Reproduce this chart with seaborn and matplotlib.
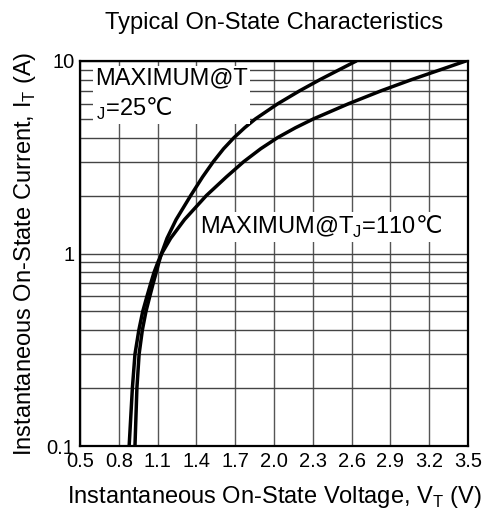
import matplotlib
matplotlib.use("Agg")
import matplotlib.pyplot as plt
import seaborn as sns
import pandas as pd

# data (current A, voltage V)
i_25 = [0.1, 0.2, 0.3, 0.4, 0.5, 0.6, 0.7, 0.8, 0.9, 1.0, 1.2, 1.5, 2.0, 2.5, 3.0, 3.5, 4.0,
        4.5, 5.0, 6.0, 7.0, 8.0, 9.0, 10]
v_25 = [0.925, 0.94, 0.957, 0.982, 1.01, 1.04, 1.066, 1.09, 1.11, 1.13, 1.173, 1.243, 1.356,
        1.448, 1.531, 1.61, 1.691, 1.773, 1.856, 2.03, 2.198, 2.355, 2.503, 2.636]
i_110 = [0.1, 0.2, 0.3, 0.4, 0.5, 0.6, 0.7, 0.8, 0.9, 1.0, 1.2, 1.5, 2.0, 2.5, 3.0, 3.5, 4.0,
         4.5, 5.0, 6.0, 7.0, 8.0, 9.0, 10]
v_110 = [0.88, 0.905, 0.925, 0.955, 0.985, 1.018, 1.047, 1.073, 1.102, 1.132, 1.201, 1.308,
         1.477, 1.632, 1.766, 1.897, 2.028, 2.166, 2.304, 2.577, 2.828, 3.063, 3.285, 3.483]
x_ticks = [0.5, 0.8, 1.1, 1.4, 1.7, 2.0, 2.3, 2.6, 2.9, 3.2, 3.5]
y_ticks = [0.1, 1, 10]
y_ticklabels = ["0.1", "1", "10"]

df = pd.concat([
    pd.DataFrame({"V": v_25, "I": i_25, "Tj": "25"}),
    pd.DataFrame({"V": v_110, "I": i_110, "Tj": "110"}),
])

sns.set_style("white")
plt.rcParams["font.family"] = ["Liberation Sans", "DejaVu Sans"]
plt.rcParams["mathtext.fontset"] = "custom"
plt.rcParams["mathtext.rm"] = "Liberation Sans"
plt.rcParams["mathtext.sf"] = "DejaVu Sans"
plt.rcParams["text.color"] = "black"
plt.rcParams["axes.labelcolor"] = "black"

fig = plt.figure(figsize=(4.96, 5.09), dpi=100)
ax = fig.add_axes([80 / 496, 63 / 509, 388 / 496, 385 / 509])

sns.lineplot(data=df, x="V", y="I", hue="Tj", palette=["black", "black"],
             sort=False, estimator=None, legend=False, linewidth=2.5, ax=ax)

ax.set_yscale("log")
ax.set_xlim(0.5, 3.5)
ax.set_ylim(0.1, 10)
ax.set_xticks(x_ticks)
ax.set_xticklabels([f"{t:.1f}" for t in x_ticks])
ax.set_yticks(y_ticks)
ax.set_yticklabels(y_ticklabels)
ax.tick_params(axis="both", length=0, labelsize=14.5, pad=4, colors="black")

# grid like the datasheet
ax.grid(True, which="major", axis="x", color="#555555", linewidth=1)
ax.grid(True, which="both", axis="y", color="#444444", linewidth=1)
ax.set_axisbelow(True)
for s in ax.spines.values():
    s.set_visible(True)
    s.set_color("black")
    s.set_linewidth(1.6)

ax.set_xlabel("Instantaneous On-State Voltage, V$_\\mathregular{T}$ (V)", fontsize=17, labelpad=10)
ax.set_ylabel("Instantaneous On-State Current, I$_\\mathregular{T}$ (A)", fontsize=17, labelpad=6)
ax.set_title("Typical On-State Characteristics", fontsize=17, pad=23)

box = dict(facecolor="white", edgecolor="none", pad=1.5)
ax.text(0.62, 9.3, "MAXIMUM@T\n$_\\mathregular{J}$=25$\\mathsf{℃}$", fontsize=17, ha="left", va="top",
        linespacing=1.35, bbox=box, zorder=5)
ax.text(1.43, 1.37, "MAXIMUM@T$_\\mathregular{J}$=110$\\mathsf{℃}$", fontsize=17, ha="left", va="center",
        bbox=box, zorder=5)

fig.savefig("out.png", dpi=100)
